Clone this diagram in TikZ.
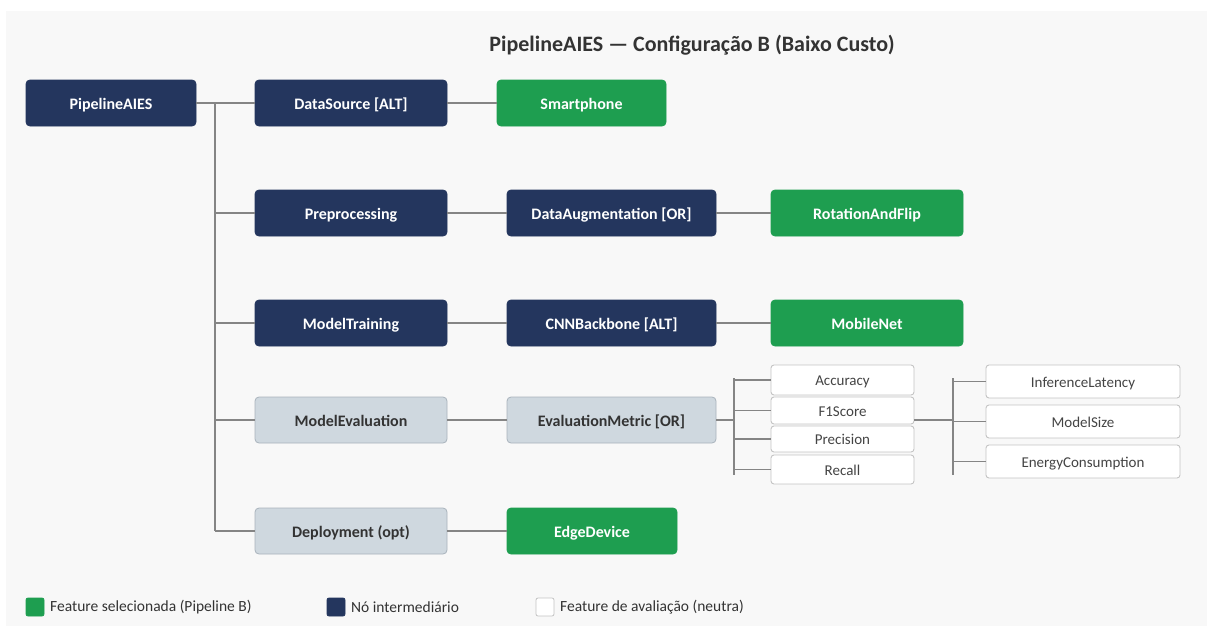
\documentclass[tikz,border=0pt]{standalone}
\usepackage{fontspec}
\setmainfont{Carlito}
\definecolor{navyc}{HTML}{24365E}
\definecolor{greenc}{HTML}{1E9E50}
\definecolor{grayf}{HTML}{CFD8DF}
\definecolor{grayd}{HTML}{A9B3BC}
\definecolor{metd}{HTML}{C4C4C4}
\definecolor{linec}{HTML}{858585}
\definecolor{bgc}{HTML}{F8F8F8}
\definecolor{txtd}{HTML}{333333}
\definecolor{txtm}{HTML}{444444}
\tikzset{
  base/.style={rounded corners=4pt, inner sep=0pt, minimum height=46pt, line width=0.8pt,
    text height=13pt, text depth=0.6pt,
    font=\bfseries\fontsize{16}{18}\selectfont},
  navy/.style={base, fill=navyc, draw=navyc, text=white},
  sel/.style={base, fill=greenc, draw=greenc, text=white},
  grayn/.style={base, fill=grayf, draw=grayd, text=txtd},
  metric/.style={rounded corners=3pt, inner sep=0pt, fill=white, draw=metd, line width=0.9pt,
    text height=12pt, text depth=0.7pt,
    text=txtm, font=\fontsize{15}{17}\selectfont},
  conn/.style={draw=linec, line width=1.6pt},
  legbox/.style={rounded corners=2pt, minimum width=18pt, minimum height=18pt, inner sep=0pt, line width=0.8pt},
  legtxt/.style={anchor=west, inner sep=0pt, text=txtd, font=\fontsize{15.5}{17}\selectfont}
}
\begin{document}
\begin{tikzpicture}[x=1pt,y=-1pt]
\useasboundingbox (0,0) rectangle (1207,626);
\fill[white] (0,0) rectangle (1207,626);
\fill[bgc] (6,11) rectangle (1207,626);

\node[font=\bfseries\fontsize{22}{24}\selectfont, text=txtd] (title) at (692,45) {PipelineAIES — Configuração B (Baixo Custo)};

% nodes
\node[navy, minimum width=170pt] (root) at (111,103) {PipelineAIES};
\node[navy, minimum width=192pt] (ds) at (351,103) {DataSource [ALT]};
\node[sel, minimum width=169pt] (sp) at (581.5,103) {Smartphone};

\node[navy, minimum width=192pt] (pre) at (351,213) {Preprocessing};
\node[navy, minimum width=209pt] (da) at (611.5,213) {DataAugmentation [OR]};
\node[sel, minimum width=192pt] (rf) at (867,213) {RotationAndFlip};

\node[navy, minimum width=192pt] (mt) at (351,323) {ModelTraining};
\node[navy, minimum width=209pt] (cnn) at (611.5,323) {CNNBackbone [ALT]};
\node[sel, minimum width=192pt] (mn) at (867,323) {MobileNet};

\node[grayn, minimum width=192pt] (me) at (351,420) {ModelEvaluation};
\node[grayn, minimum width=209pt] (em) at (611.5,420) {EvaluationMetric [OR]};

\node[grayn, minimum width=192pt] (dep) at (351,531) {Deployment (opt)};
\node[sel, minimum width=170pt] (ed) at (592,531) {EdgeDevice};

% metrics
\node[metric, minimum width=143pt, minimum height=30pt] (acc) at (842.5,380) {Accuracy};
\node[metric, minimum width=143pt, minimum height=27pt] (f1) at (842.5,410.5) {F1Score};
\node[metric, minimum width=143pt, minimum height=26pt] (prec) at (842.5,439) {Precision};
\node[metric, minimum width=143pt, minimum height=29pt] (rec) at (842.5,469.5) {Recall};

\node[metric, minimum width=194pt, minimum height=33pt] (il) at (1083,381.5) {InferenceLatency};
\node[metric, minimum width=194pt, minimum height=33pt] (ms) at (1083,421.5) {ModelSize};
\node[metric, minimum width=194pt, minimum height=33pt] (ec) at (1083,461.5) {EnergyConsumption};

% connectors: trunk
\coordinate (t0) at (215,103);
\coordinate (t5) at (215,531);
\draw[conn] (root.east) -- (ds.west);
\draw[conn] (t0) -- (t5);
\draw[conn] (t0 |- pre.west) -- (pre.west);
\draw[conn] (t0 |- mt.west) -- (mt.west);
\draw[conn] (t0 |- me.west) -- (me.west);
\draw[conn] (t5) -- (dep.west);

\draw[conn] (ds.east) -- (sp.west);
\draw[conn] (pre.east) -- (da.west);
\draw[conn] (da.east) -- (rf.west);
\draw[conn] (mt.east) -- (cnn.west);
\draw[conn] (cnn.east) -- (mn.west);
\draw[conn] (me.east) -- (em.west);
\draw[conn] (dep.east) -- (ed.west);

% metric bracket
\coordinate (b1t) at (734,378);
\coordinate (b1b) at (734,475);
\draw[conn] (em.east) -- (b1t |- em.east);
\draw[conn] (b1t) -- (b1b);
\draw[conn] (b1t |- acc.west) -- (acc.west);
\draw[conn] (b1t |- f1.west) -- (f1.west);
\draw[conn] (b1t |- prec.west) -- (prec.west);
\draw[conn] (b1t |- rec.west) -- (rec.west);

% right bracket
\coordinate (mc) at (914,420);
\coordinate (b2t) at (953,378);
\coordinate (b2b) at (953,475);
\draw[conn] (mc) -- (b2t |- mc);
\draw[conn] (b2t) -- (b2b);
\draw[conn] (b2t |- il.west) -- (il.west);
\draw[conn] (b2t |- ms.west) -- (ms.west);
\draw[conn] (b2t |- ec.west) -- (ec.west);

% legend
\node[legbox, fill=greenc, draw=greenc] (lg1) at (35,607) {};
\node[legtxt] (lt1) at (50,607) {Feature selecionada (Pipeline B)};
\node[legbox, fill=navyc, draw=navyc] (lg2) at (336,607) {};
\node[legtxt] (lt2) at (351,607) {Nó intermediário};
\node[legbox, fill=white, draw=metd] (lg3) at (545,607) {};
\node[legtxt] (lt3) at (560,607) {Feature de avaliação (neutra)};
\end{tikzpicture}
\end{document}
